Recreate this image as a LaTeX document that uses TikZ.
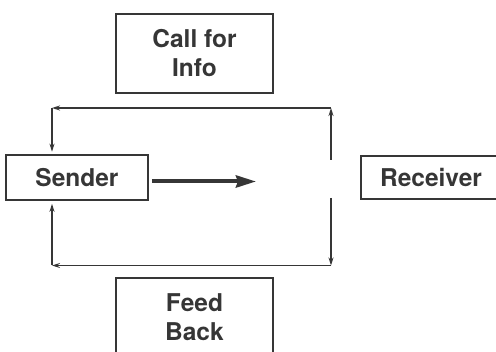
\documentclass[tikz,border=0pt]{standalone}
\usepackage{fontspec}
\setmainfont{TeX Gyre Heros}
\usetikzlibrary{arrows.meta}
\definecolor{ink}{HTML}{363636}
\begin{document}
\begin{tikzpicture}[x=1pt,y=-1pt,
  box/.style={draw=ink,line width=1.6pt,text=ink,align=center,inner sep=0pt,
    font=\fontsize{24.5}{29}\selectfont\bfseries},
  link/.style={draw=ink,line width=1.5pt,-{Stealth[length=8pt,width=5pt]}},
  send/.style={draw=ink,line width=4pt,-{Stealth[length=20pt,width=12pt,inset=2pt]}}]
\useasboundingbox (0,0) rectangle (496,352);
% boxes
\node[box,minimum width=157pt,minimum height=79pt] (call) at (194.5,53.5) {Call for\\Info};
\node[box,minimum width=142pt,minimum height=45pt] (sender) at (77,177.5) {Sender};
\node[box,minimum width=140pt,minimum height=43pt] (receiver) at (431,177.5) {Receiver};
\node[box,minimum width=157pt,minimum height=79pt] (feed) at (194.5,317.5) {Feed\\Back};
% loop corners
\coordinate (tr) at (331,108);
\coordinate (tl) at (52,108);
\coordinate (br) at (331,265.5);
\coordinate (bl) at (52,265.5);
\coordinate (rt) at (331,160);
\coordinate (rb) at (331,198);
\coordinate (mid) at (256,181.5);
% upper loop
\draw[link] (rt) -- (tr);
\draw[link] (tr) -- (tl);
\draw[link,shorten >=2.5pt] (tl) -- (tl |- sender.north);
% lower loop
\draw[link] (rb) -- (br);
\draw[link] (br) -- (bl);
\draw[link,shorten >=3pt] (bl) -- (bl |- sender.south);
% message
\draw[send] ([shift={(3,4)}]sender.east) -- (mid);
\end{tikzpicture}
\end{document}
